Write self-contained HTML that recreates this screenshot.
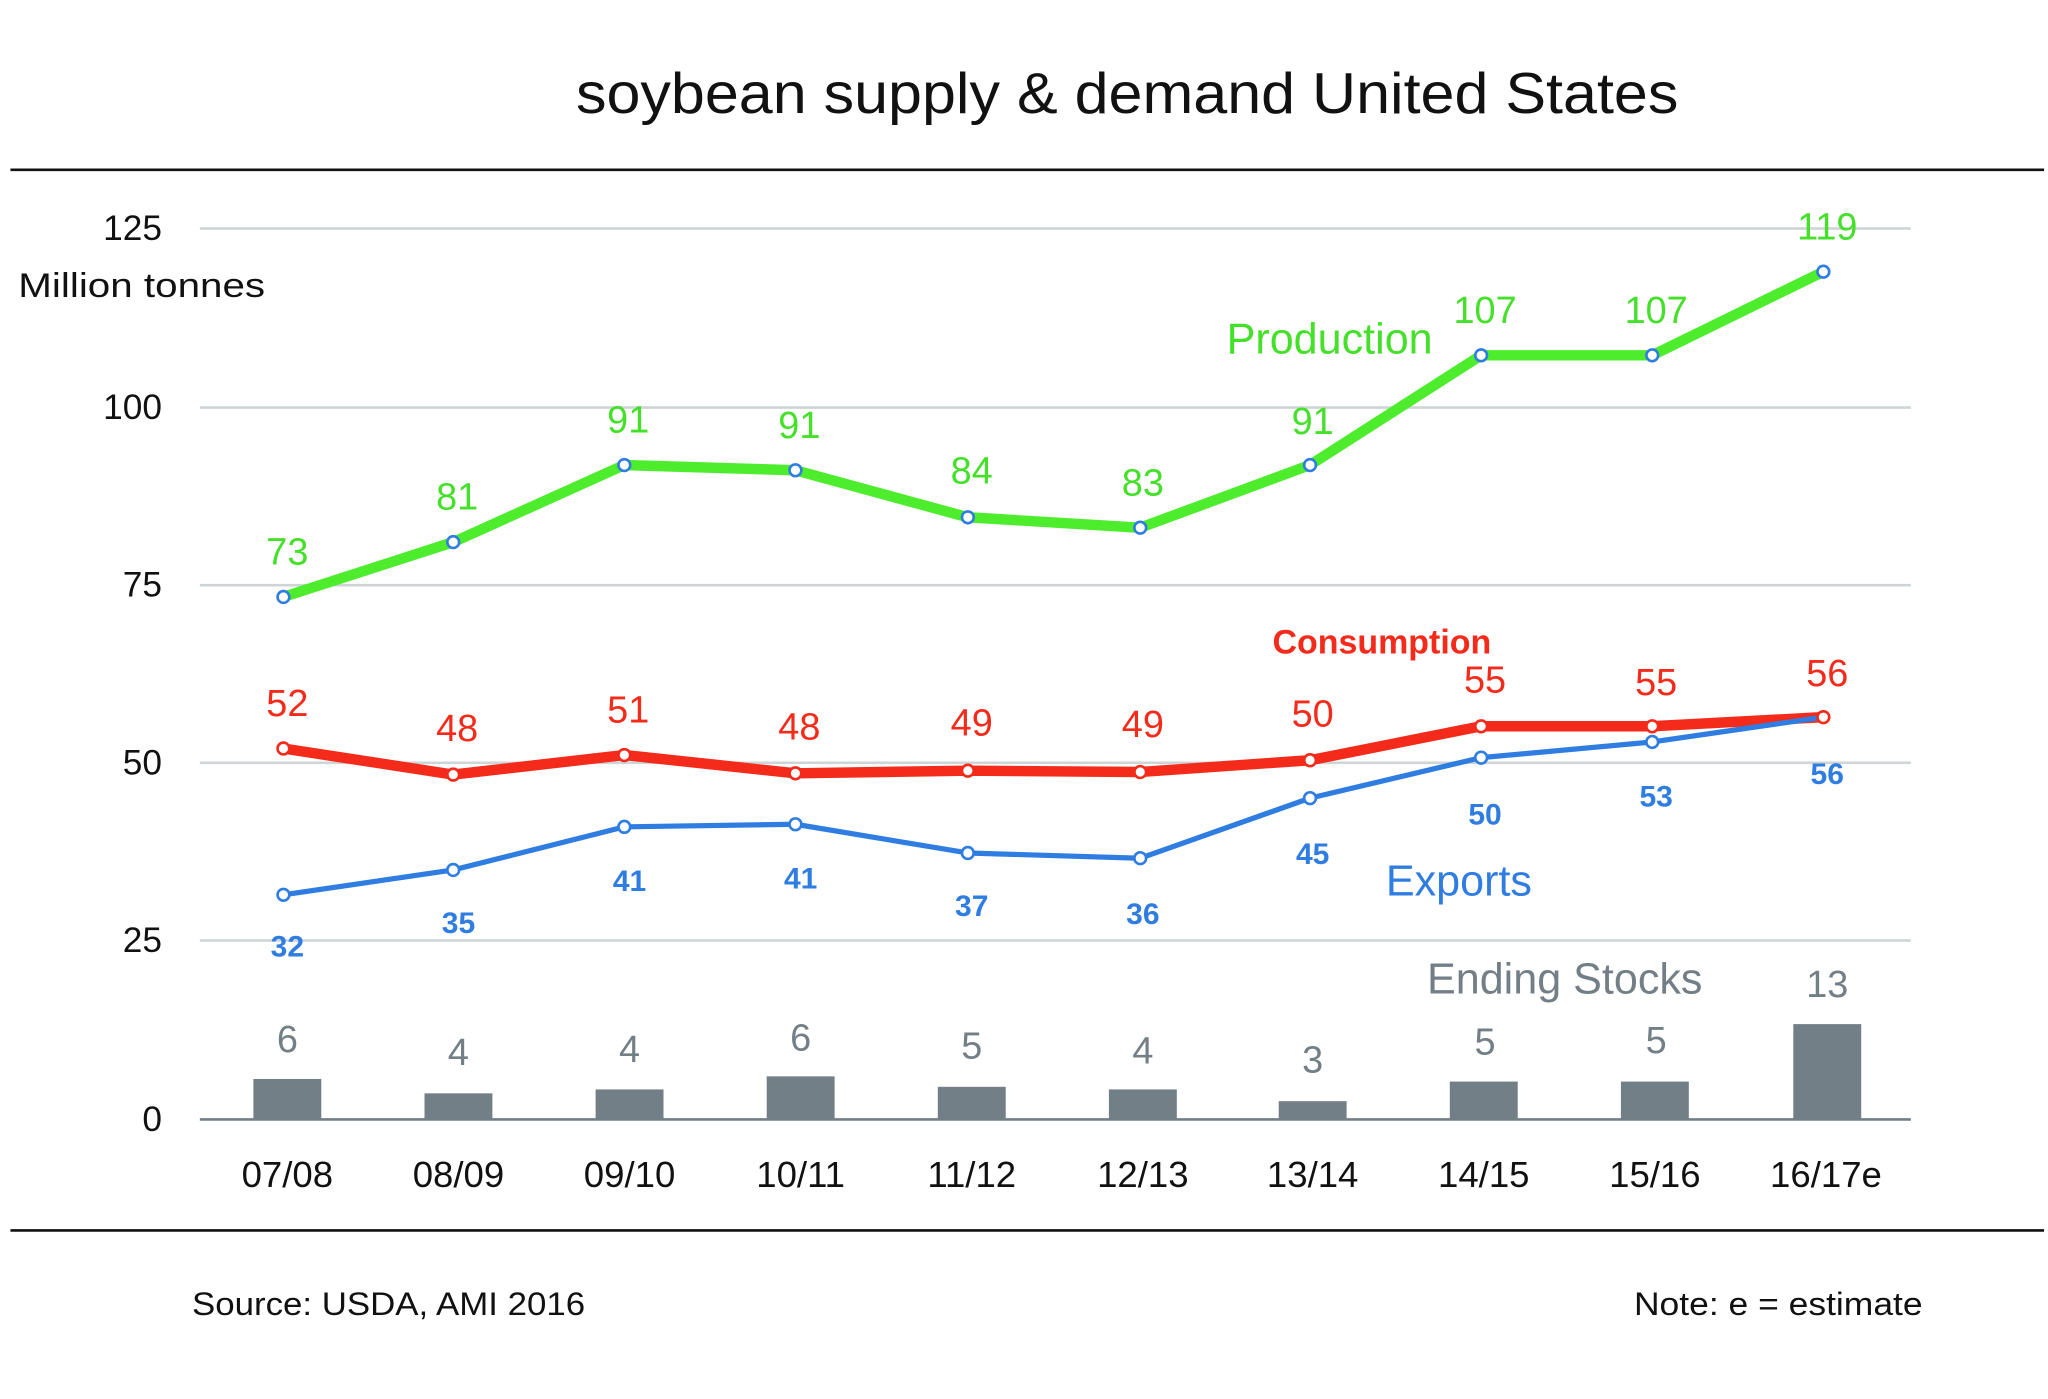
<!DOCTYPE html>
<html><head><meta charset="utf-8"><style>
html,body{margin:0;padding:0;background:#fff;}
svg{display:block;}
text{font-family:"Liberation Sans",sans-serif;dominant-baseline:central;}
</style></head><body>
<svg width="2048" height="1399" viewBox="0 0 1568 1071" preserveAspectRatio="none" xmlns="http://www.w3.org/2000/svg">
<rect width="1568" height="1071" fill="#fff"/>
<text x="441" y="72" font-size="44" fill="#111" textLength="844" lengthAdjust="spacingAndGlyphs">soybean supply &amp; demand United States</text>
<line x1="8" y1="130" x2="1565" y2="130" stroke="#111" stroke-width="2"/>
<line x1="8" y1="942" x2="1565" y2="942" stroke="#111" stroke-width="2"/>
<g stroke="#cfd4d6" stroke-width="2">
<line x1="153" y1="175" x2="1463" y2="175"/>
<line x1="153" y1="312" x2="1463" y2="312"/>
<line x1="153" y1="448" x2="1463" y2="448"/>
<line x1="153" y1="584" x2="1463" y2="584"/>
<line x1="153" y1="720" x2="1463" y2="720"/>
</g>
<g font-size="27" fill="#111" text-anchor="end">
<text x="124" y="175">125</text>
<text x="124" y="312">100</text>
<text x="124" y="448">75</text>
<text x="124" y="584">50</text>
<text x="124" y="720">25</text>
<text x="124" y="857">0</text>
</g>
<text x="14" y="219" font-size="26" fill="#111" textLength="189" lengthAdjust="spacingAndGlyphs">Million tonnes</text>
<g fill="#737f86">
<rect x="194" y="826" width="52" height="31"/>
<rect x="325" y="837" width="52" height="20"/>
<rect x="456" y="834" width="52" height="23"/>
<rect x="587" y="824" width="52" height="33"/>
<rect x="718" y="832" width="52" height="25"/>
<rect x="849" y="834" width="52" height="23"/>
<rect x="979" y="843" width="52" height="14"/>
<rect x="1110" y="828" width="52" height="29"/>
<rect x="1241" y="828" width="52" height="29"/>
<rect x="1373" y="784" width="52" height="73"/>
</g>
<line x1="153" y1="857" x2="1463" y2="857" stroke="#737f86" stroke-width="2"/>
<g font-size="28" fill="#111" text-anchor="middle">
<text x="220" y="899">07/08</text><text x="351" y="899">08/09</text><text x="482" y="899">09/10</text><text x="613" y="899">10/11</text><text x="744" y="899">11/12</text><text x="875" y="899">12/13</text><text x="1005" y="899">13/14</text><text x="1136" y="899">14/15</text><text x="1267" y="899">15/16</text><text x="1398" y="899">16/17e</text>
</g>
<polyline fill="none" stroke="#4ded2d" stroke-width="8" stroke-linejoin="round" points="217,457 347,415 478,356 609,360 741,396 873,404 1003,356 1134,272 1265,272 1396,208"/>
<polyline fill="none" stroke="#f42a1a" stroke-width="8" stroke-linejoin="round" points="217,573 347,593 478,578 609,592 741,590 873,591 1003,582 1134,556 1265,556 1396,549"/>
<polyline fill="none" stroke="#2f7de1" stroke-width="4" stroke-linejoin="round" points="217,685 347,666 478,633 609,631 741,653 873,657 1003,611 1134,580 1265,568 1396,549"/>
<g fill="#fff" stroke="#2f7de1" stroke-width="2">
<circle cx="217" cy="457" r="4.5"/><circle cx="347" cy="415" r="4.5"/><circle cx="478" cy="356" r="4.5"/><circle cx="609" cy="360" r="4.5"/><circle cx="741" cy="396" r="4.5"/><circle cx="873" cy="404" r="4.5"/><circle cx="1003" cy="356" r="4.5"/><circle cx="1134" cy="272" r="4.5"/><circle cx="1265" cy="272" r="4.5"/><circle cx="1396" cy="208" r="4.5"/>
<circle cx="217" cy="685" r="4.5"/><circle cx="347" cy="666" r="4.5"/><circle cx="478" cy="633" r="4.5"/><circle cx="609" cy="631" r="4.5"/><circle cx="741" cy="653" r="4.5"/><circle cx="873" cy="657" r="4.5"/><circle cx="1003" cy="611" r="4.5"/><circle cx="1134" cy="580" r="4.5"/><circle cx="1265" cy="568" r="4.5"/>
</g>
<g fill="#fff" stroke="#f42a1a" stroke-width="2">
<circle cx="217" cy="573" r="4.5"/><circle cx="347" cy="593" r="4.5"/><circle cx="478" cy="578" r="4.5"/><circle cx="609" cy="592" r="4.5"/><circle cx="741" cy="590" r="4.5"/><circle cx="873" cy="591" r="4.5"/><circle cx="1003" cy="582" r="4.5"/><circle cx="1134" cy="556" r="4.5"/><circle cx="1265" cy="556" r="4.5"/><circle cx="1396" cy="549" r="4.5"/>
</g>
<g font-size="29" fill="#44e02a" text-anchor="middle">
<text x="220" y="423">73</text><text x="350" y="381">81</text><text x="481" y="322">91</text><text x="612" y="326">91</text><text x="744" y="361">84</text><text x="875" y="370">83</text><text x="1005" y="323">91</text><text x="1137" y="238">107</text><text x="1268" y="238">107</text><text x="1399" y="174">119</text>
<text x="1018" y="260" font-size="33">Production</text>
</g>
<g font-size="29" fill="#f42a1a" text-anchor="middle">
<text x="220" y="539">52</text><text x="350" y="558">48</text><text x="481" y="544">51</text><text x="612" y="557">48</text><text x="744" y="554">49</text><text x="875" y="555">49</text><text x="1005" y="547">50</text><text x="1137" y="521">55</text><text x="1268" y="523">55</text><text x="1399" y="516">56</text>
<text x="1058" y="492" font-size="26" font-weight="bold">Consumption</text>
</g>
<g font-size="23" fill="#2f7de1" text-anchor="middle" font-weight="bold">
<text x="220" y="725">32</text><text x="351" y="707">35</text><text x="482" y="675">41</text><text x="613" y="673">41</text><text x="744" y="694">37</text><text x="875" y="700">36</text><text x="1005" y="654">45</text><text x="1137" y="624">50</text><text x="1268" y="610">53</text><text x="1399" y="593">56</text>
</g>
<text x="1117" y="675" font-size="33" fill="#2f7de1" text-anchor="middle">Exports</text>
<g font-size="29" fill="#737f86" text-anchor="middle">
<text x="220" y="796">6</text><text x="351" y="806">4</text><text x="482" y="804">4</text><text x="613" y="795">6</text><text x="744" y="801">5</text><text x="875" y="805">4</text><text x="1005" y="812">3</text><text x="1137" y="798">5</text><text x="1268" y="797">5</text><text x="1399" y="754">13</text>
<text x="1198" y="750" font-size="33">Ending Stocks</text>
</g>
<text x="147" y="998" font-size="25" fill="#111" textLength="301" lengthAdjust="spacingAndGlyphs">Source:  USDA, AMI 2016</text>
<text x="1251" y="998" font-size="25" fill="#111" textLength="221" lengthAdjust="spacingAndGlyphs">Note: e = estimate</text>
</svg>
</body></html>
